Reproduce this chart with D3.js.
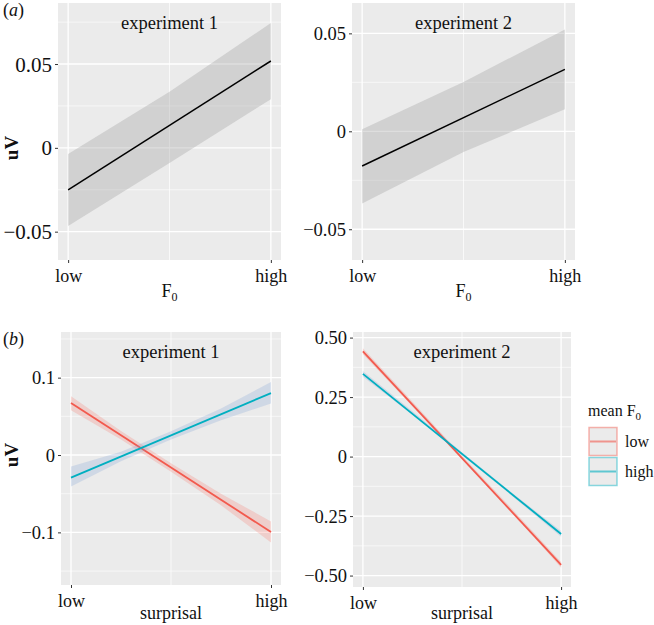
<!DOCTYPE html>
<html><head><meta charset="utf-8">
<script src="https://cdn.jsdelivr.net/npm/d3@7"></script>
<style>
body{margin:0;background:#fff;}
svg{display:block;}
svg text{font-family:"Liberation Serif","Tinos","Times New Roman","DejaVu Serif",serif;}
</style></head>
<body><svg id="c" width="654" height="625"></svg>
<script>
// ---------- data ----------
const xTickValues = [0, 1];
const xTickLabels = ["low", "high"];
const panelTitles = ["experiment 1", "experiment 2"];
const legendTitle = "mean F";
const groupNames = ["low", "high"];

// panel (a): fitted line at low/high, ribbon at x = 0, .5, 1
const aRibbonX = [0, 0.5, 1];
const a1Fit = [-0.0251, 0.0518];
const a1Lower = [-0.0466, -0.0090, 0.0290];
const a1Upper = [-0.0036, 0.0335, 0.0745];
const a2Fit = [-0.0177, 0.0316];
const a2Lower = [-0.0369, -0.0106, 0.0112];
const a2Upper = [0.0010, 0.0252, 0.0520];
const aTicks = [-0.05, 0, 0.05];
const aTickLabels = ["\u22120.05", "0", "0.05"];

// panel (b): two groups (mean F0 low / high)
const bRibbonX = [0, 0.25, 0.5, 0.75, 1];
const b1LowFit = [0.0673, -0.0995];
const b1LowLower = [0.058, 0.020, -0.0215, -0.065, -0.113];
const b1LowUpper = [0.076, 0.0312, -0.0107, -0.050, -0.0858];
const b1HighFit = [-0.0292, 0.080];
const b1HighLower = [-0.0408, -0.0080, 0.0200, 0.0450, 0.0665];
const b1HighUpper = [-0.0150, 0.0042, 0.0308, 0.0600, 0.0943];
const b2LowFit = [0.4424, -0.455];
const b2LowLower = [0.430, 0.212, -0.010, -0.232, -0.467];
const b2LowUpper = [0.455, 0.230, 0.004, -0.218, -0.443];
const b2HighFit = [0.3475, -0.325];
const b2HighLower = [0.335, 0.176, 0.006, -0.163, -0.337];
const b2HighUpper = [0.360, 0.190, 0.018, -0.151, -0.313];
const b1Ticks = [-0.1, 0, 0.1];
const b1TickLabels = ["\u22120.1", "0", "0.1"];
const b2Ticks = [-0.5, -0.25, 0, 0.25, 0.5];
const b2TickLabels = ["\u22120.50", "\u22120.25", "0", "0.25", "0.50"];

// ---------- style ----------
const groupColors = ["#F25A4E", "#00AFC0"];
const ribbonFills = ["rgba(248,118,109,0.25)", "rgba(110,150,210,0.22)"];
const panelBg = "#EBEBEB";
const FONT = '"Liberation Serif","Tinos","Times New Roman","DejaVu Serif",serif';

const svg = d3.select("#c");

function drawPanel(o) {
  const x = d3.scaleLinear().domain([-0.05, 1.05]).range([o.x0, o.x1]);
  const y = d3.scaleLinear().domain(o.ydom).range([o.y1, o.y0]);
  const g = svg.append("g");
  g.append("rect").attr("x", o.x0).attr("y", o.y0)
    .attr("width", o.x1 - o.x0).attr("height", o.y1 - o.y0).attr("fill", panelBg);
  // minor grid
  const step = o.ticks[1] - o.ticks[0];
  const minors = [];
  for (let v = o.ticks[0] - step * 3.5; v <= o.ydom[1]; v += step) {
    if (v >= o.ydom[0] && v <= o.ydom[1]) minors.push(v);
  }
  g.selectAll(".mny").data(minors).enter().append("line")
    .attr("x1", o.x0).attr("x2", o.x1).attr("y1", d => y(d)).attr("y2", d => y(d))
    .attr("stroke", "#fff").attr("stroke-width", 0.6);
  g.append("line").attr("x1", x(0.5)).attr("x2", x(0.5)).attr("y1", o.y0).attr("y2", o.y1)
    .attr("stroke", "#fff").attr("stroke-width", 0.7);
  // major grid
  g.selectAll(".mjy").data(o.ticks).enter().append("line")
    .attr("x1", o.x0).attr("x2", o.x1).attr("y1", d => y(d)).attr("y2", d => y(d))
    .attr("stroke", "#fff").attr("stroke-width", 1.3);
  g.selectAll(".mjx").data(xTickValues).enter().append("line")
    .attr("x1", d => x(d)).attr("x2", d => x(d)).attr("y1", o.y0).attr("y2", o.y1)
    .attr("stroke", "#fff").attr("stroke-width", 1.3);
  // series
  o.series.forEach(s => {
    const area = d3.area().x((d, i) => x(o.rx[i])).y0(d => y(d[0])).y1(d => y(d[1]));
    const pts = o.rx.map((_, i) => [s.lower[i], s.upper[i]]);
    g.append("path").attr("d", area(pts)).attr("fill", s.fill);
    const line = d3.line().x((d, i) => x(xTickValues[i])).y(d => y(d));
    g.append("path").attr("d", line(s.fit)).attr("fill", "none")
      .attr("stroke", s.color).attr("stroke-width", s.width);
  });
  // axes
  const ya = d3.axisLeft(y).tickValues(o.ticks).tickFormat((d, i) => o.labels[i]).tickSize(3).tickPadding(3);
  const yg = g.append("g").attr("transform", `translate(${o.x0},0)`).call(ya);
  yg.attr("font-family", FONT);
  yg.select(".domain").remove();
  yg.selectAll("line").attr("stroke", "#333");
  yg.selectAll("text").attr("font-size", o.yfs).attr("fill", "#111")
    .style("font-family", FONT).attr("dy", "0.34em");
  const xa = d3.axisBottom(x).tickValues(xTickValues).tickFormat((d, i) => xTickLabels[i]).tickSize(3).tickPadding(6);
  const xg = g.append("g").attr("transform", `translate(0,${o.y1})`).call(xa);
  xg.attr("font-family", FONT);
  xg.select(".domain").remove();
  xg.selectAll("line").attr("stroke", "#333");
  xg.selectAll("text").attr("font-size", 18).attr("fill", "#111")
    .style("font-family", FONT).attr("dy", "0.71em");
  // title in panel
  g.append("text").attr("x", x(0.5)).attr("y", o.y0 + 26).attr("text-anchor", "middle")
    .attr("font-size", 18.5).attr("fill", "#111").text(o.title);
  // x title
  const xt = g.append("text").attr("x", x(0.5)).attr("y", o.xtY).attr("text-anchor", "middle")
    .attr("font-size", 18).attr("fill", "#111");
  if (o.xtitle === "F0") {
    xt.append("tspan").text("F");
    xt.append("tspan").attr("font-size", 12).attr("dy", 4).text("0");
  } else xt.text(o.xtitle);
}

drawPanel({x0: 58, x1: 281, y0: 3, y1: 260, ydom: [-0.0669, 0.0864], ticks: aTicks, labels: aTickLabels,
  yfs: 21, rx: aRibbonX, title: panelTitles[0], xtitle: "F0", xtY: 297,
  series: [{fit: a1Fit, lower: a1Lower, upper: a1Upper, color: "#000", fill: "rgba(160,160,160,0.35)", width: 1.5}]});
drawPanel({x0: 352, x1: 575, y0: 3, y1: 260, ydom: [-0.0657, 0.0655], ticks: aTicks, labels: aTickLabels,
  yfs: 18.5, rx: aRibbonX, title: panelTitles[1], xtitle: "F0", xtY: 297,
  series: [{fit: a2Fit, lower: a2Lower, upper: a2Upper, color: "#000", fill: "rgba(160,160,160,0.35)", width: 1.5}]});
drawPanel({x0: 61, x1: 281, y0: 332, y1: 585, ydom: [-0.168, 0.159], ticks: b1Ticks, labels: b1TickLabels,
  yfs: 18.5, rx: bRibbonX, title: panelTitles[0], xtitle: "surprisal", xtY: 619,
  series: [
    {fit: b1LowFit, lower: b1LowLower, upper: b1LowUpper, color: groupColors[0], fill: ribbonFills[0], width: 1.8},
    {fit: b1HighFit, lower: b1HighLower, upper: b1HighUpper, color: groupColors[1], fill: ribbonFills[1], width: 1.8}]});
drawPanel({x0: 353, x1: 571, y0: 332, y1: 587, ydom: [-0.548, 0.5235], ticks: b2Ticks, labels: b2TickLabels,
  yfs: 18.5, rx: bRibbonX, title: panelTitles[1], xtitle: "surprisal", xtY: 619,
  series: [
    {fit: b2LowFit, lower: b2LowLower, upper: b2LowUpper, color: groupColors[0], fill: ribbonFills[0], width: 1.8},
    {fit: b2HighFit, lower: b2HighLower, upper: b2HighUpper, color: groupColors[1], fill: ribbonFills[1], width: 1.8}]});

// y titles
[[148], [455]].forEach(([cy]) => {
  svg.append("text").attr("transform", `translate(18,${cy}) rotate(-90)`).attr("text-anchor", "middle")
    .attr("font-size", 19).attr("font-weight", "bold").attr("fill", "#111").text("uV");
});
// panel tags
[["a", 16], ["b", 345]].forEach(([t, yy]) => {
  const tx = svg.append("text").attr("x", 3).attr("y", yy).attr("font-size", 18).attr("fill", "#111");
  tx.append("tspan").text("(");
  tx.append("tspan").attr("font-style", "italic").text(t);
  tx.append("tspan").text(")");
});

// legend
const lg = svg.append("g");
const lt = lg.append("text").attr("x", 588).attr("y", 416).attr("font-size", 16).attr("fill", "#111");
lt.append("tspan").text(legendTitle);
lt.append("tspan").attr("font-size", 11).attr("dy", 4).text("0");
groupNames.forEach((n, i) => {
  const ky = 427 + i * 30;
  lg.append("rect").attr("x", 589).attr("y", ky + 0.5).attr("width", 28).attr("height", 28)
    .attr("fill", panelBg).attr("stroke", groupColors[i]).attr("stroke-opacity", 0.45).attr("stroke-width", 1.5);
  lg.append("line").attr("x1", 590).attr("x2", 616).attr("y1", ky + 14.5).attr("y2", ky + 14.5)
    .attr("stroke", groupColors[i]).attr("stroke-opacity", 0.6).attr("stroke-width", 2);
  lg.append("text").attr("x", 625).attr("y", ky + 20).attr("font-size", 16).attr("fill", "#111").text(n);
});
</script></body></html>
